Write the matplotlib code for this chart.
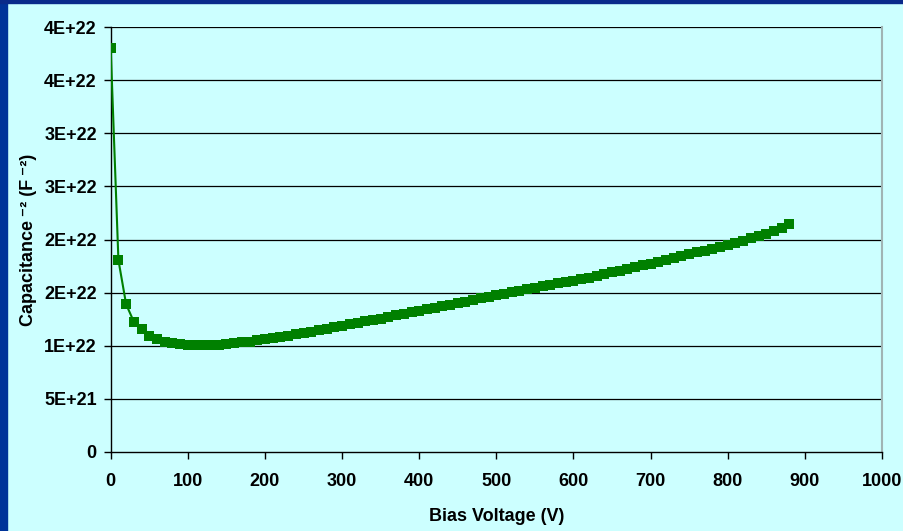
"""C^-2 vs bias voltage (depletion scan), Excel-style slide chart."""
import matplotlib
matplotlib.use("Agg")
import matplotlib.pyplot as plt
from matplotlib.patches import Rectangle

plt.rcParams["font.family"] = ["Liberation Sans", "DejaVu Sans"]
plt.rcParams["font.weight"] = "bold"

# bias voltage (V), one point every 10 V
voltage = list(range(0, 890, 10))
# capacitance^-2 in units of 1e22 F^-2
inv_c2 = [
    3.800, 1.807, 1.390, 1.226, 1.157, 1.092, 1.060, 1.038, 1.023, 1.012,
    1.007, 1.005, 1.005, 1.006, 1.010, 1.017, 1.025, 1.032, 1.040, 1.050,
    1.060, 1.071, 1.083, 1.095, 1.108, 1.120, 1.134, 1.148, 1.160, 1.174,
    1.188, 1.202, 1.216, 1.229, 1.242, 1.256, 1.270, 1.286, 1.300, 1.315,
    1.330, 1.345, 1.358, 1.372, 1.386, 1.401, 1.415, 1.430, 1.446, 1.459,
    1.473, 1.488, 1.502, 1.516, 1.530, 1.544, 1.558, 1.573, 1.587, 1.600,
    1.612, 1.626, 1.642, 1.658, 1.674, 1.690, 1.706, 1.723, 1.740, 1.757,
    1.774, 1.790, 1.807, 1.824, 1.842, 1.860, 1.878, 1.896, 1.914, 1.932,
    1.951, 1.970, 1.990, 2.011, 2.030, 2.055, 2.080, 2.110, 2.143,
]
inv_c2 = [v * 1e22 for v in inv_c2]

x_ticks = list(range(0, 1001, 100))
y_ticks = [0, 0.5e22, 1.0e22, 1.5e22, 2.0e22, 2.5e22, 3.0e22, 3.5e22, 4.0e22]
y_tick_labels = ["0", "5E+21", "1E+22", "2E+22", "2E+22", "3E+22", "3E+22", "4E+22", "4E+22"]

BG = "#ccffff"
fig = plt.figure(figsize=(9.04, 5.31), dpi=100, facecolor=BG)

# slide border (blue strip on left and top)
fig.patches.append(Rectangle((0, 0), 7 / 904, 1, transform=fig.transFigure,
                             color="#003399", zorder=0))
fig.patches.append(Rectangle((0, 1 - 3 / 531), 1, 3 / 531, transform=fig.transFigure,
                             color="#0a2a8a", zorder=0))

ax = fig.add_axes([110.7 / 904, 1 - 452 / 531, (882 - 110.7) / 904, (452 - 27) / 531])
ax.set_facecolor(BG)

ax.plot(voltage, inv_c2, color="#008000", linewidth=1.5, marker="s",
        markersize=6.5, markeredgewidth=0, zorder=3)

ax.set_xlim(0, 1000)
ax.set_ylim(0, 4e22)
ax.set_xticks(x_ticks)
ax.set_yticks(y_ticks)
ax.set_yticklabels(y_tick_labels)
ax.tick_params(axis="both", direction="out", length=5, width=1, labelsize=13,
               color="black", pad=5)
ax.tick_params(axis="x", pad=10)

for y in y_ticks[1:]:
    ax.axhline(y, color="black", linewidth=0.9, zorder=1)

ax.spines["top"].set_visible(False)
ax.spines["right"].set_color("#a0b4b4")
ax.spines["right"].set_linewidth(1.5)
ax.spines["left"].set_linewidth(1)
ax.spines["bottom"].set_linewidth(1)

ax.set_xlabel("Bias Voltage (V)", fontsize=13, fontweight="bold", labelpad=13)
ax.set_ylabel("Capacitance\u2009\u207b\u00b2 (F\u2009\u207b\u00b2)", fontsize=13,
              fontweight="bold", labelpad=5)

fig.savefig("out.png", dpi=100, facecolor=BG)
